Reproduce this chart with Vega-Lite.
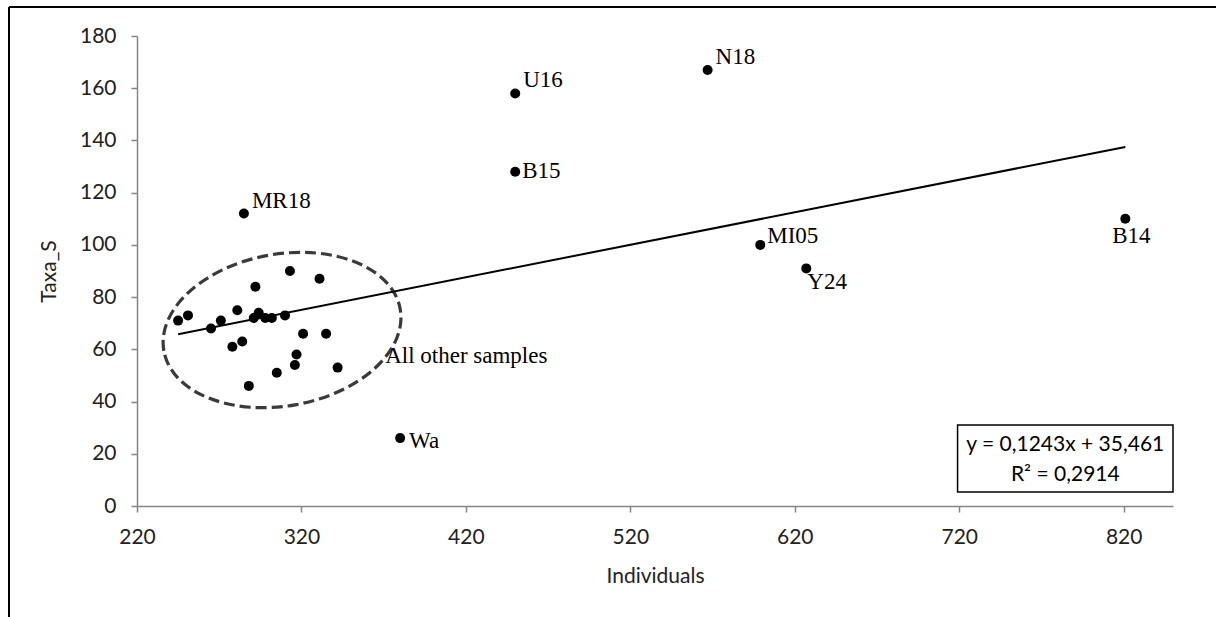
{
  "$schema": "https://vega.github.io/schema/vega-lite/v6.json",
  "width": 1036,
  "height": 470,
  "autosize": {"type": "none"},
  "padding": {"left": 137, "top": 36, "right": 43, "bottom": 111},
  "background": "white",
  "config": {
    "view": {"stroke": null},
    "axis": {
      "grid": false,
      "domainColor": "#868686",
      "domainWidth": 1.5,
      "tickColor": "#868686",
      "tickWidth": 1.5,
      "tickSize": 6,
      "labelFont": "Lato",
      "labelFontSize": 21,
      "labelColor": "#222222",
      "titleFont": "Lato",
      "titleFontSize": 21,
      "titleFontWeight": "normal",
      "titleColor": "#222222"
    }
  },
  "datasets": {
    "samples": [
      {"name": "", "ind": 245, "taxa": 71},
      {"name": "", "ind": 251, "taxa": 73},
      {"name": "", "ind": 265, "taxa": 68},
      {"name": "", "ind": 271, "taxa": 71},
      {"name": "", "ind": 281, "taxa": 75},
      {"name": "", "ind": 278, "taxa": 61},
      {"name": "", "ind": 284, "taxa": 63},
      {"name": "", "ind": 292, "taxa": 84},
      {"name": "", "ind": 291, "taxa": 72},
      {"name": "", "ind": 294, "taxa": 74},
      {"name": "", "ind": 298, "taxa": 72},
      {"name": "", "ind": 302, "taxa": 72},
      {"name": "", "ind": 310, "taxa": 73},
      {"name": "", "ind": 313, "taxa": 90},
      {"name": "", "ind": 331, "taxa": 87},
      {"name": "", "ind": 321, "taxa": 66},
      {"name": "", "ind": 335, "taxa": 66},
      {"name": "", "ind": 317, "taxa": 58},
      {"name": "", "ind": 316, "taxa": 54},
      {"name": "", "ind": 305, "taxa": 51},
      {"name": "", "ind": 288, "taxa": 46},
      {"name": "", "ind": 342, "taxa": 53},
      {"name": "MR18", "ind": 285, "taxa": 112},
      {"name": "U16", "ind": 450, "taxa": 158},
      {"name": "N18", "ind": 567, "taxa": 167},
      {"name": "B15", "ind": 450, "taxa": 128},
      {"name": "MI05", "ind": 599, "taxa": 100},
      {"name": "Y24", "ind": 627, "taxa": 91},
      {"name": "B14", "ind": 821, "taxa": 110},
      {"name": "Wa", "ind": 380, "taxa": 26}
    ],
    "one": [{}]
  },
  "data": {"name": "samples"},
  "layer": [
    {
      "data": {"name": "one"},
      "mark": {"type": "point", "shape": "M-1,0C-1,-0.35,-0.552,-0.633,0,-0.633C0.552,-0.633,1,-0.35,1,0C1,0.35,0.552,0.633,0,0.633C-0.552,0.633,-1,0.35,-1,0Z", "size": 57600, "angle": -10, "filled": false, "stroke": "#3a3a3a", "strokeWidth": 3.2, "strokeDash": [11, 5], "opacity": 1},
      "encoding": {
        "x": {"datum": 308.2, "type": "quantitative", "scale": {"domain": [220, 850], "nice": false, "zero": false}, "axis": {"title": "Individuals", "values": [220, 320, 420, 520, 620, 720, 820], "labelPadding": 14, "titlePadding": 18, "labelFlush": false}},
        "y": {"datum": 67.4, "type": "quantitative", "scale": {"domain": [0, 180], "nice": false}, "axis": {"title": "Taxa_S", "values": [0, 20, 40, 60, 80, 100, 120, 140, 160, 180], "labelPadding": 15, "titlePadding": 20}}
      }
    },
    {
      "transform": [{"regression": "taxa", "on": "ind"}],
      "mark": {"type": "line", "color": "black", "strokeWidth": 2},
      "encoding": {
        "x": {"field": "ind", "type": "quantitative"},
        "y": {"field": "taxa", "type": "quantitative"}
      }
    },
    {
      "mark": {"type": "circle", "size": 100, "color": "black", "opacity": 1},
      "encoding": {
        "x": {"field": "ind", "type": "quantitative"},
        "y": {"field": "taxa", "type": "quantitative"}
      }
    },
    {
      "transform": [{"filter": "indexof(['MR18','U16','N18'], datum.name) >= 0"}],
      "mark": {"type": "text", "font": "Liberation Serif", "fontSize": 23, "color": "black", "align": "left", "baseline": "alphabetic", "dx": 8, "dy": -6},
      "encoding": {
        "x": {"field": "ind", "type": "quantitative"},
        "y": {"field": "taxa", "type": "quantitative"},
        "text": {"field": "name"}
      }
    },
    {
      "transform": [{"filter": "datum.name == 'MI05'"}],
      "mark": {"type": "text", "font": "Liberation Serif", "fontSize": 23, "color": "black", "align": "left", "baseline": "alphabetic", "dx": 7, "dy": -2},
      "encoding": {
        "x": {"field": "ind", "type": "quantitative"},
        "y": {"field": "taxa", "type": "quantitative"},
        "text": {"field": "name"}
      }
    },
    {
      "transform": [{"filter": "datum.name == 'B15'"}],
      "mark": {"type": "text", "font": "Liberation Serif", "fontSize": 23, "color": "black", "align": "left", "baseline": "alphabetic", "dx": 7, "dy": 6},
      "encoding": {
        "x": {"field": "ind", "type": "quantitative"},
        "y": {"field": "taxa", "type": "quantitative"},
        "text": {"field": "name"}
      }
    },
    {
      "transform": [{"filter": "datum.name == 'Wa'"}],
      "mark": {"type": "text", "font": "Liberation Serif", "fontSize": 23, "color": "black", "align": "left", "baseline": "alphabetic", "dx": 9, "dy": 10},
      "encoding": {
        "x": {"field": "ind", "type": "quantitative"},
        "y": {"field": "taxa", "type": "quantitative"},
        "text": {"field": "name"}
      }
    },
    {
      "transform": [{"filter": "datum.name == 'Y24'"}],
      "mark": {"type": "text", "font": "Liberation Serif", "fontSize": 23, "color": "black", "align": "left", "baseline": "alphabetic", "dx": 1, "dy": 21},
      "encoding": {
        "x": {"field": "ind", "type": "quantitative"},
        "y": {"field": "taxa", "type": "quantitative"},
        "text": {"field": "name"}
      }
    },
    {
      "transform": [{"filter": "datum.name == 'B14'"}],
      "mark": {"type": "text", "font": "Liberation Serif", "fontSize": 23, "color": "black", "align": "center", "baseline": "alphabetic", "dx": 6, "dy": 24},
      "encoding": {
        "x": {"field": "ind", "type": "quantitative"},
        "y": {"field": "taxa", "type": "quantitative"},
        "text": {"field": "name"}
      }
    },
    {
      "data": {"name": "one"},
      "mark": {"type": "text", "font": "Liberation Serif", "fontSize": 23, "color": "black", "align": "left", "baseline": "alphabetic"},
      "encoding": {
        "x": {"datum": 370.9},
        "y": {"datum": 54.8},
        "text": {"value": "All other samples"}
      }
    },
    {
      "data": {"name": "one"},
      "mark": {"type": "rect", "fill": "white", "stroke": "black", "strokeWidth": 1.5},
      "encoding": {
        "x": {"datum": 719},
        "x2": {"datum": 850},
        "y": {"datum": 31},
        "y2": {"datum": 5.4}
      }
    },
    {
      "data": {"name": "one"},
      "mark": {"type": "text", "font": "Lato", "fontSize": 21, "color": "black", "align": "center", "baseline": "middle", "lineHeight": 30},
      "encoding": {
        "x": {"datum": 784.5},
        "y": {"datum": 23.4},
        "text": {"value": ["y = 0,1243x + 35,461", "R² = 0,2914"]}
      }
    },
    {
      "data": {"name": "one"},
      "mark": {"type": "rule", "color": "black", "strokeWidth": 2},
      "encoding": {
        "x": {"datum": 142.16},
        "y": {"datum": 191.1},
        "y2": {"datum": -50}
      }
    },
    {
      "data": {"name": "one"},
      "mark": {"type": "rule", "color": "black", "strokeWidth": 2},
      "encoding": {
        "y": {"datum": 191.1},
        "x": {"datum": 142.16},
        "x2": {"datum": 890}
      }
    }
  ]
}
